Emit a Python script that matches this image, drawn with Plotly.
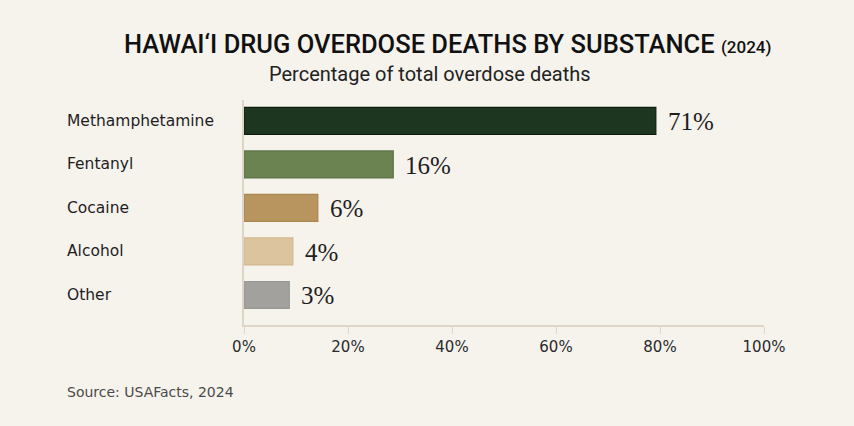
"""Hawai'i drug overdose deaths by substance (2024) as a horizontal bar chart."""

import plotly.graph_objects as go

# data
substances = ["Methamphetamine", "Fentanyl", "Cocaine", "Alcohol", "Other"]
# bar lengths as drawn against the 0-100% axis
bar_lengths = [79.2, 28.7, 14.2, 9.4, 8.7]
# printed value labels
value_labels = ["71%", "16%", "6%", "4%", "3%"]
bar_colors = ["#1d3620", "#6a8350", "#b8955e", "#dcc49e", "#a3a19e"]
edge_colors = ["#0e1d10", "#5d7446", "#a9874f", "#d2b88f", "#989692"]
tick_vals = [0, 20, 40, 60, 80, 100]
tick_text = ["0%", "20%", "40%", "60%", "80%", "100%"]

BG = "#f6f3ed"
AXIS = "#dcd5c8"
INK = "#1e1e1e"
SANS = "DejaVu Sans"
LEFT = -0.344  # left edge of category names / source, in paper units

fig = go.Figure(
    go.Bar(
        x=bar_lengths,
        y=substances,
        orientation="h",
        width=0.62,
        marker=dict(color=bar_colors, line=dict(color=edge_colors, width=1.2)),
        hoverinfo="skip",
    )
)

# value labels just past the end of each bar
for name, val, lab in zip(substances, bar_lengths, value_labels):
    fig.add_annotation(
        x=val, y=name, text=lab, showarrow=False,
        xanchor="left", xshift=10, yshift=-1,
        font=dict(family="Liberation Serif", size=25, color=INK),
    )

# category names, left aligned
for name in substances:
    fig.add_annotation(
        x=LEFT, xref="paper", y=name, text=name, showarrow=False,
        xanchor="left", font=dict(family=SANS, size=15.5, color=INK),
    )

fig.add_annotation(
    x=0.392, xref="paper", y=1.249, yref="paper", yanchor="middle",
    text="HAWAI\u2018I DRUG OVERDOSE DEATHS BY SUBSTANCE <span style='font-size:17px'>(2024)</span>",
    showarrow=False,
    font=dict(family="Roboto", size=25.5, color="#111111", weight=500),
)
fig.add_annotation(
    x=0.358, xref="paper", y=1.116, yref="paper", yanchor="middle",
    text="Percentage of total overdose deaths",
    showarrow=False, font=dict(family="Roboto", size=20, color="#222222"),
)
fig.add_annotation(
    x=LEFT, xref="paper", y=-0.298, yref="paper", yanchor="middle",
    text="Source: USAFacts, 2024",
    showarrow=False, xanchor="left",
    font=dict(family=SANS, size=14, color="#4a4a4a"),
)

fig.update_layout(
    width=854,
    height=426,
    paper_bgcolor=BG,
    plot_bgcolor=BG,
    margin=dict(l=244, r=90, t=100, b=101),
    showlegend=False,
    bargap=0.38,
)
fig.update_xaxes(
    range=[0, 100],
    tickvals=tick_vals,
    ticktext=tick_text,
    showgrid=False,
    zeroline=False,
    showline=True,
    linecolor=AXIS,
    linewidth=1.5,
    ticks="outside",
    ticklen=7,
    tickcolor=AXIS,
    tickfont=dict(family=SANS, size=15, color="#2a2a2a"),
)
fig.update_yaxes(
    range=[4.69, -0.48],
    showticklabels=False,
    showgrid=False,
    zeroline=False,
    showline=True,
    linecolor=AXIS,
    linewidth=1.5,
    ticks="",
)

# drop the default page margin so the figure fills the window
fig.write_html(
    "out.html",
    config={"displayModeBar": False},
    post_script="document.body.style.margin='0';",
)
